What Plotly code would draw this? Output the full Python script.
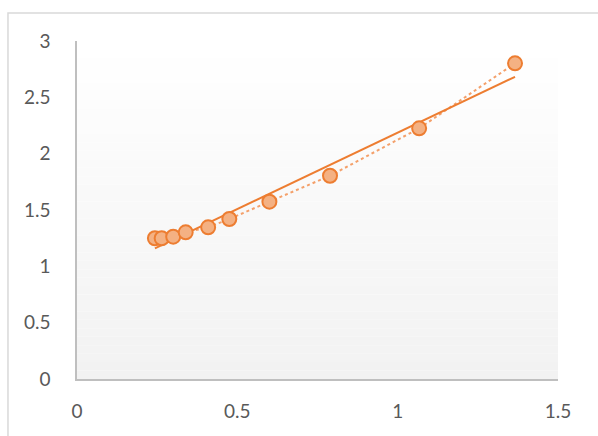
import numpy as np
import plotly.graph_objects as go

# Measured series
x_vals = [0.243, 0.264, 0.300, 0.339, 0.409, 0.475, 0.600, 0.789, 1.067, 1.366]
y_vals = [1.249, 1.249, 1.263, 1.302, 1.346, 1.420, 1.574, 1.804, 2.225, 2.802]

x_ticks = [0, 0.5, 1, 1.5]
y_ticks = [0, 0.5, 1, 1.5, 2, 2.5, 3]

# Linear trendline across the data range
slope, intercept = np.polyfit(x_vals, y_vals, 1)
trend_x = [min(x_vals), max(x_vals)]
trend_y = [slope * v + intercept for v in trend_x]

fig = go.Figure()

fig.add_trace(go.Scatter(
    x=x_vals, y=y_vals, mode="lines",
    line=dict(color="#F4A06A", width=2, dash="dot"),
    hoverinfo="skip", showlegend=False,
))
fig.add_trace(go.Scatter(
    x=trend_x, y=trend_y, mode="lines",
    line=dict(color="#ED7D31", width=2),
    showlegend=False,
))
fig.add_trace(go.Scatter(
    x=x_vals, y=y_vals, mode="markers",
    marker=dict(size=14, color="#F4B183", line=dict(color="#ED7D31", width=2)),
    showlegend=False,
))

# Vertical gradient for the plot area (light at top, grey at bottom)
shapes = []
bands = 40
top_c = np.array([255, 255, 255])
bot_c = np.array([242, 242, 242])
for i in range(bands):
    t = (i + 0.5) / bands
    c = (top_c * (1 - t) + bot_c * t).round().astype(int)
    shapes.append(dict(
        type="rect", xref="paper", yref="paper",
        x0=0, x1=1, y0=1 - (i + 1) / bands, y1=1 - i / bands,
        fillcolor=f"rgb({c[0]},{c[1]},{c[2]})", line=dict(width=0),
        layer="below",
    ))

# Chart border
shapes.append(dict(
    type="rect", xref="paper", yref="paper",
    x0=-0.1435, x1=1.2, y0=-0.3, y1=1.0828,
    line=dict(color="#D9D9D9", width=1.5), fillcolor="rgba(0,0,0,0)",
    layer="below",
))

fig.update_layout(
    width=598, height=436,
    margin=dict(l=77, r=40, t=41, b=57),
    paper_bgcolor="white",
    plot_bgcolor="rgba(0,0,0,0)",
    shapes=shapes,
    font=dict(family="Lato, 'Open Sans', sans-serif", size=19, color="#595959"),
    xaxis=dict(
        range=[0, 1.5], tickvals=x_ticks, ticktext=[str(v) for v in x_ticks],
        showgrid=False, zeroline=False, showline=True,
        linecolor="#BFBFBF", linewidth=1.5, ticks="",
        ticklabelstandoff=14,
    ),
    yaxis=dict(
        range=[0, 3], tickvals=y_ticks, ticktext=[str(v) for v in y_ticks],
        showgrid=False, zeroline=False, showline=True,
        linecolor="#BFBFBF", linewidth=1.5, ticks="",
        ticklabelstandoff=21,
    ),
)

fig.write_html("out.html")
